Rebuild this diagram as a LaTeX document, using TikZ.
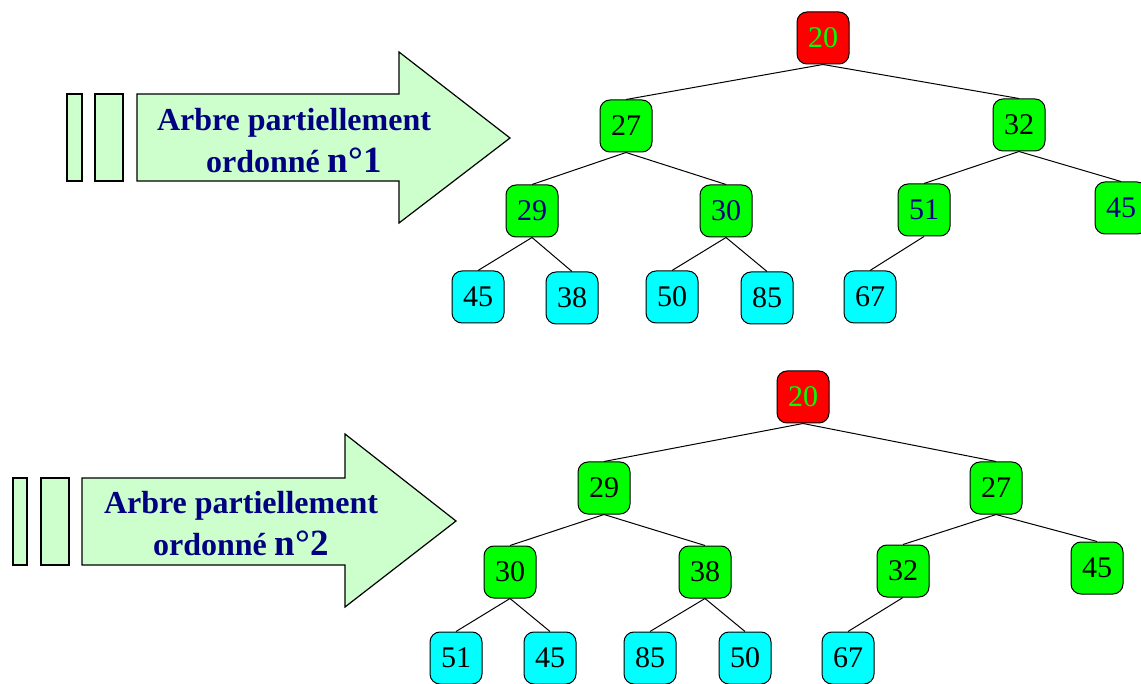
\documentclass[tikz,border=0pt]{standalone}
\usepackage{fontspec}
\setmainfont{Liberation Serif}
\usepackage{tikz}
\usetikzlibrary{positioning}
\usepackage{xcolor}
\definecolor{TasRed}{HTML}{FF0000}
\definecolor{TasGreen}{HTML}{00FF00}
\definecolor{TasCyan}{HTML}{00FFFF}
\definecolor{TasPale}{HTML}{CCFFCC}
\definecolor{TasNavy}{HTML}{000080}

\begin{document}
\begin{tikzpicture}[x=1pt,y=-1pt,
    cle/.style={draw,line width=1pt,rounded corners=10pt,minimum size=52pt,inner sep=0pt,font=\fontsize{30}{30}\selectfont},
    racine/.style={cle,fill=TasRed,text=TasGreen},
    interne/.style={cle,fill=TasGreen},
    feuille/.style={cle,fill=TasCyan},
    bleu/.style={text=TasNavy},
    lien/.style={line width=1pt},
    fleche/.style={draw,line width=1.2pt,fill=TasPale},
    titre/.style={align=center,text=TasNavy,font=\bfseries\fontsize{32}{42}\selectfont}]
        \useasboundingbox (0,0) rectangle (1141,684);
        \draw[fleche] (67,94) rectangle (82,181);
        \draw[fleche] (95,94) rectangle (123,181);
        \draw[fleche] (137,94) -- (399,94) -- (399,52) -- (510,138) -- (399,223) -- (399,181) -- (137,181) -- cycle;
        \node[titre] (titre1) at (294,141) {Arbre partiellement\\ordonné {\fontsize{37}{42}\selectfont n°1}};
        \draw[fleche] (13,478) rectangle (27,565);
        \draw[fleche] (41,478) rectangle (69,565);
        \draw[fleche] (82,478) -- (345,478) -- (345,434) -- (456,521) -- (345,607) -- (345,565) -- (82,565) -- cycle;
        \node[titre] (titre2) at (241,524) {Arbre partiellement\\ordonné {\fontsize{37}{42}\selectfont n°2}};
        \node[racine] (a) at (823,38) {20};
        \node[interne] (a1) at (626,126) {27};
        \node[interne] (a2) at (1019,125) {32};
        \node[interne,bleu] (a11) at (532,211) {29};
        \node[interne,bleu] (a12) at (726,211) {30};
        \node[interne,bleu] (a21) at (924,210) {51};
        \node[interne,bleu] (a22) at (1121,208) {45};
        \node[feuille] (a111) at (478,297) {45};
        \node[feuille] (a112) at (572,298) {38};
        \node[feuille] (a121) at (672,297) {50};
        \node[feuille] (a122) at (767,298) {85};
        \node[feuille] (a211) at (870,297) {67};
        \node[racine] (b) at (803,397) {20};
        \node[interne] (b1) at (604,488) {29};
        \node[interne] (b2) at (996,488) {27};
        \node[interne] (b11) at (510,572) {30};
        \node[interne] (b12) at (705,572) {38};
        \node[interne] (b21) at (903,571) {32};
        \node[interne] (b22) at (1097,568) {45};
        \node[feuille] (b111) at (456,658) {51};
        \node[feuille] (b112) at (550,658) {45};
        \node[feuille] (b121) at (650,658) {85};
        \node[feuille] (b122) at (745,658) {50};
        \node[feuille] (b211) at (848,658) {67};
        \foreach \p/\c in {a/a1,a/a2,a1/a11,a1/a12,a2/a21,a2/a22,a11/a111,a11/a112,a12/a121,a12/a122,a21/a211,
                           b/b1,b/b2,b1/b11,b1/b12,b2/b21,b2/b22,b11/b111,b11/b112,b12/b121,b12/b122,b21/b211}
          \draw[lien] (\p.south) -- (\c.north);
      \end{tikzpicture}
\end{document}
